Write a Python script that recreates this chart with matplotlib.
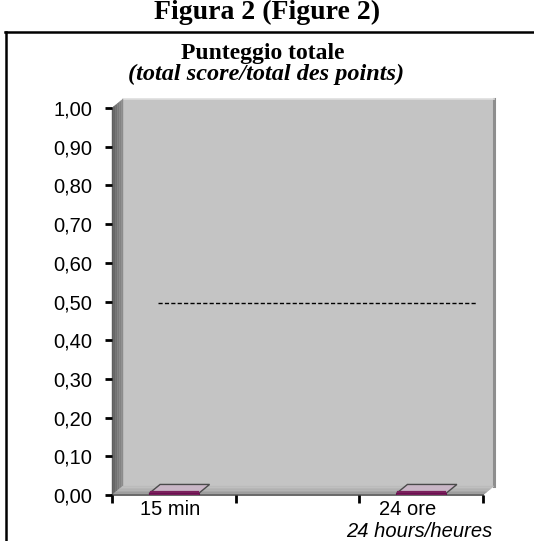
import numpy as np
import matplotlib
matplotlib.use("Agg")
import matplotlib.pyplot as plt
from matplotlib.patches import Polygon, Rectangle
from matplotlib.lines import Line2D
from matplotlib.transforms import offset_copy

# ---- data ----
categories = ["15 min", "", "24 ore"]
values = [0.004, np.nan, 0.004]
reference_value = 0.495
yticks = [0.0, 0.1, 0.2, 0.3, 0.4, 0.5, 0.6, 0.7, 0.8, 0.9, 1.0]
ytick_labels = ["0,00", "0,10", "0,20", "0,30", "0,40", "0,50",
                "0,60", "0,70", "0,80", "0,90", "1,00"]
sub_label = "24 hours/heures"
fig_title = "Figura 2 (Figure 2)"
chart_title = "Punteggio totale"
chart_subtitle = "(total score/total des points)"

W, H = 534, 541
fig = plt.figure(figsize=(W / 100, H / 100), dpi=100)
fig.patch.set_facecolor("white")

L, R, T, B = 112, 483, 108, 495
ax = fig.add_axes([L / W, 1 - B / H, (R - L) / W, (B - T) / H])
ax.set_xlim(0, len(categories))
ax.set_ylim(0, 1)
ax.patch.set_visible(False)
for s in ax.spines.values():
    s.set_visible(False)

DX, DY = 11, 9  # 3D depth in pixels
back = offset_copy(ax.transAxes, fig=fig, x=DX, y=DY, units="dots")

# back wall
ax.add_patch(Rectangle((0, 0), 1, 1, transform=back, facecolor="#c4c4c4",
                       edgecolor="none", zorder=0, clip_on=False))
ax.add_line(Line2D([1, 1], [0, 1], transform=back, color="#8e8e8e", lw=2.2,
                   zorder=0.5, clip_on=False))
ax.add_line(Line2D([0, 1], [1, 1], transform=back, color="#dedede", lw=1.2,
                   zorder=0.5, clip_on=False))

fig.canvas.draw()
p00 = ax.transAxes.transform((0, 0))
p01 = ax.transAxes.transform((0, 1))
p10 = ax.transAxes.transform((1, 0))
off = np.array([DX, DY])

# left side wall: gradient of parallelogram strips
shades = ["#5e5e5e", "#666666", "#707070", "#7a7a7a", "#838383", "#8c8c8c"]
n = len(shades)
for i, c in enumerate(shades):
    a = off * i / n
    b = off * (i + 1) / n
    pts = [p00 + a, p01 + a, p01 + b, p00 + b]
    ax.add_patch(Polygon(pts, closed=True, transform=None, facecolor=c,
                         edgecolor=c, lw=0.3, zorder=0.6, clip_on=False))
# floor: gradient strips
fshades = ["#8c8c8c", "#9c9c9c", "#a8a8a8", "#b0b0b0", "#b6b6b6", "#bbbbbb"]
for i, c in enumerate(fshades):
    a = off * i / n
    b = off * (i + 1) / n
    pts = [p00 + a, p10 + a, p10 + b, p00 + b]
    ax.add_patch(Polygon(pts, closed=True, transform=None, facecolor=c,
                         edgecolor=c, lw=0.3, zorder=0.7, clip_on=False))
ax.add_line(Line2D([0, 1], [0, 0], transform=ax.transAxes, color="#6a6a6a", lw=1.4,
                   zorder=0.8, clip_on=False))

# bars (3D-ish, near zero height)
xpos = np.arange(len(categories)) + 0.5
bw = 0.4
ax.bar(xpos, values, width=bw, color="#7a1f5c", edgecolor="#6a1050",
       lw=0.8, zorder=2)
for x, v in zip(xpos, values):
    if np.isnan(v):
        continue
    q0 = ax.transData.transform((x - bw / 2, v))
    q1 = ax.transData.transform((x + bw / 2, v))
    pts = [q0, q1, q1 + off, q0 + off]
    ax.add_patch(Polygon(pts, closed=True, transform=None, facecolor="#c9b6c6",
                         edgecolor="#4a4a4a", lw=1.0, zorder=1.9))
    ax.add_line(Line2D([q0[0] + 2, q1[0] - 1], [q0[1] + 1.5, q1[1] + 1.5],
                       transform=None, color="#7a1f5c", lw=1.6, zorder=2.1))

# reference dashed line
ax.plot([0.37, 2.95], [reference_value, reference_value], color="black",
        lw=1.0, ls=(0, (3, 1.6)), zorder=3)

# axes ticks
ax.set_yticks(yticks)
ax.set_yticklabels(ytick_labels, fontfamily="Liberation Sans", fontsize=14.5)
ax.tick_params(axis="y", direction="out", length=5, width=2, pad=9, color="black")
ax.set_xticks(np.arange(len(categories) + 1))
ax.set_xticklabels([])
ax.tick_params(axis="x", direction="out", length=6, width=2, color="black")

for x, lab in zip(xpos, categories):
    if lab:
        dxo = -14 if lab == "24 ore" else -4
        tt = offset_copy(ax.get_xaxis_transform(), fig=fig, x=dxo, y=-5, units="dots")
        ax.text(x, 0, lab, transform=tt, ha="center", va="top",
                fontfamily="Liberation Sans", fontsize=14.5)
tt = offset_copy(ax.get_xaxis_transform(), fig=fig, x=-2, y=-27, units="dots")
ax.text(xpos[2], 0, sub_label, transform=tt, ha="center", va="top",
        fontfamily="Liberation Sans", fontstyle="italic", fontsize=14.5)

# titles
fig.text(0.5, 1 - 12 / H, fig_title, ha="center", va="center",
         fontfamily="Liberation Serif", fontweight="bold", fontsize=20)
fig.text(263 / W, 1 - 54 / H, chart_title, ha="center", va="center",
         fontfamily="Liberation Serif", fontweight="bold", fontsize=17)
fig.text(266 / W, 1 - 74 / H, chart_subtitle, ha="center", va="center",
         fontfamily="Liberation Serif", fontweight="bold", fontstyle="italic",
         fontsize=17.5)

# outer frame
fig.add_artist(Line2D([5 / W, 1.0], [1 - 32 / H, 1 - 32 / H], transform=fig.transFigure,
                      color="black", lw=1.8))
fig.add_artist(Line2D([6 / W, 6 / W], [1 - 32 / H, 0], transform=fig.transFigure,
                      color="black", lw=1.8))

fig.savefig("out.png", dpi=100)
